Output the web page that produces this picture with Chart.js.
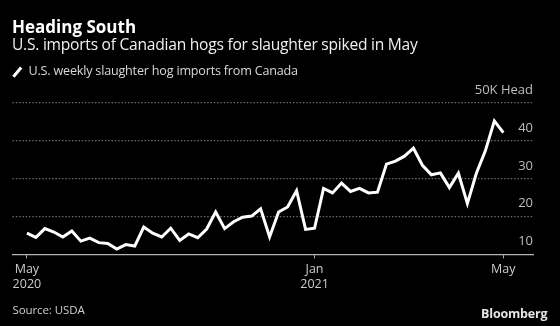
<!DOCTYPE html>
<html>
<head>
<meta charset="utf-8">
<script src="https://cdn.jsdelivr.net/npm/chart.js@4"></script>
<style>
  html, body { margin: 0; padding: 0; background: #000; }
  body { width: 560px; height: 326px; position: relative; overflow: hidden; font-family: "Open Sans", sans-serif; }
  #chart { position: absolute; left: 0; top: 0; }
  .txt { position: absolute; white-space: nowrap; line-height: 1; }
  #title { left: 12px; top: 17.6px; font-size: 17px; font-weight: 700; color: #fff; }
  #subtitle { left: 12px; top: 36.8px; font-size: 15.6px; letter-spacing: -0.25px; color: #f0f0f0; }
  #legend { left: 28.5px; top: 64.8px; font-size: 12.6px; letter-spacing: -0.2px; color: #d8d8d8; }
  #legendMark { position: absolute; left: 15.5px; top: 65.5px; width: 2.6px; height: 11.5px; background: #fff; transform: rotate(40deg); }
  #source { left: 12.5px; top: 304px; font-size: 11.5px; letter-spacing: -0.1px; color: #cfcfcf; }
  #brand { right: 12.7px; top: 308.2px; font-size: 12.5px; font-weight: 700; color: #e6e6e6; letter-spacing: -0.2px; }
</style>
</head>
<body>
<canvas id="chart" width="560" height="326"></canvas>
<div class="txt" id="title">Heading South</div>
<div class="txt" id="subtitle">U.S. imports of Canadian hogs for slaughter spiked in May</div>
<span id="legendMark"></span>
<div class="txt" id="legend">U.S. weekly slaughter hog imports from Canada</div>
<div class="txt" id="source">Source: USDA</div>
<div class="txt" id="brand">Bloomberg</div>

<script>
// weekly slaughter hog imports, thousand head
const weeks = [
  "2020-05-23", "2020-05-30", "2020-06-06", "2020-06-13", "2020-06-20", "2020-06-27",
  "2020-07-04", "2020-07-11", "2020-07-18", "2020-07-25", "2020-08-01", "2020-08-08",
  "2020-08-15", "2020-08-22", "2020-08-29", "2020-09-05", "2020-09-12", "2020-09-19",
  "2020-09-26", "2020-10-03", "2020-10-10", "2020-10-17", "2020-10-24", "2020-10-31",
  "2020-11-07", "2020-11-14", "2020-11-21", "2020-11-28", "2020-12-05", "2020-12-12",
  "2020-12-19", "2020-12-26", "2021-01-02", "2021-01-09", "2021-01-16", "2021-01-23",
  "2021-01-30", "2021-02-06", "2021-02-13", "2021-02-20", "2021-02-27", "2021-03-06",
  "2021-03-13", "2021-03-20", "2021-03-27", "2021-04-03", "2021-04-10", "2021-04-17",
  "2021-04-24", "2021-05-01", "2021-05-08", "2021-05-15", "2021-05-22", "2021-05-29"
];

const imports = [
  15.6, 14.5, 16.8, 15.9, 14.6, 16.2, 13.5, 14.3, 13.1, 12.9, 11.4, 12.6,
  12.2, 17.2, 15.6, 14.6, 16.9, 13.7, 15.4, 14.4, 16.7, 21.2, 16.8, 18.6,
  19.8, 20.1, 22.0, 14.6, 21.2, 22.5, 26.8, 16.6, 16.9, 27.4, 26.2, 28.8,
  26.6, 27.4, 26.2, 26.4, 33.8, 34.6, 35.9, 38.0, 33.5, 31.0, 31.5, 27.6,
  31.4, 23.4, 31.4, 37.3, 45.2, 42.1
];

// x ticks sit on these weeks
const tickWeeks = ["2020-05-23", "2021-01-02", "2021-05-29"];
const tickLabels = [["May", "2020"], ["Jan", "2021"], ["May"]];

const yTicks = [10, 20, 30, 40, 50];
const yUnit = "K Head";

const tickIdx = tickWeeks.map(w => weeks.indexOf(w));
const points = weeks.map((w, i) => ({ x: i, y: imports[i] }));

Chart.defaults.font.family = "'Open Sans', sans-serif";

new Chart(document.getElementById("chart").getContext("2d"), {
  type: "line",
  data: {
    datasets: [{
      data: points,
      borderColor: "#ffffff",
      borderWidth: 3,
      borderJoinStyle: "miter",
      pointRadius: 0,
      tension: 0,
      fill: false
    }]
  },
  options: {
    responsive: false,
    animation: false,
    layout: { padding: { top: 102.7, left: 12.5, right: 27, bottom: 31.6 } },
    plugins: {
      legend: { display: false },
      tooltip: { enabled: false }
    },
    scales: {
      x: {
        type: "linear",
        min: -1.6,
        max: 56.3,
        afterBuildTicks: s => { s.ticks = tickIdx.map(v => ({ value: v })); },
        afterFit: s => { s.height = 40; s.paddingLeft = 0; s.paddingRight = 0; },
        grid: { drawOnChartArea: false, tickLength: 4, tickColor: "#aaaaaa", lineWidth: 1 },
        border: { display: true, color: "#b4b4b4", width: 1.2 },
        ticks: {
          autoSkip: false,
          maxRotation: 0,
          padding: 4,
          color: "#cccccc",
          font: { size: 12.5, lineHeight: 1.2 },
          callback: v => tickLabels[tickIdx.indexOf(v)]
        }
      },
      y: {
        position: "right",
        min: 10,
        max: 50,
        afterBuildTicks: s => { s.ticks = yTicks.map(v => ({ value: v })); },
        afterFit: s => { s.paddingTop = 0; s.paddingBottom = 0; },
        grid: {
          drawTicks: false,
          lineWidth: 1.2,
          color: c => c.tick && c.tick.value === 10 ? "rgba(0,0,0,0)" : "#6a6a6a"
        },
        border: { display: false, dash: [1.5, 1.8] },
        ticks: {
          mirror: true,
          padding: 0,
          labelOffset: -12.7,
          color: "#bdbdbd",
          font: { size: 13 },
          callback: v => v === 50 ? v + yUnit : String(v)
        }
      }
    }
  }
});
</script>
</body>
</html>
